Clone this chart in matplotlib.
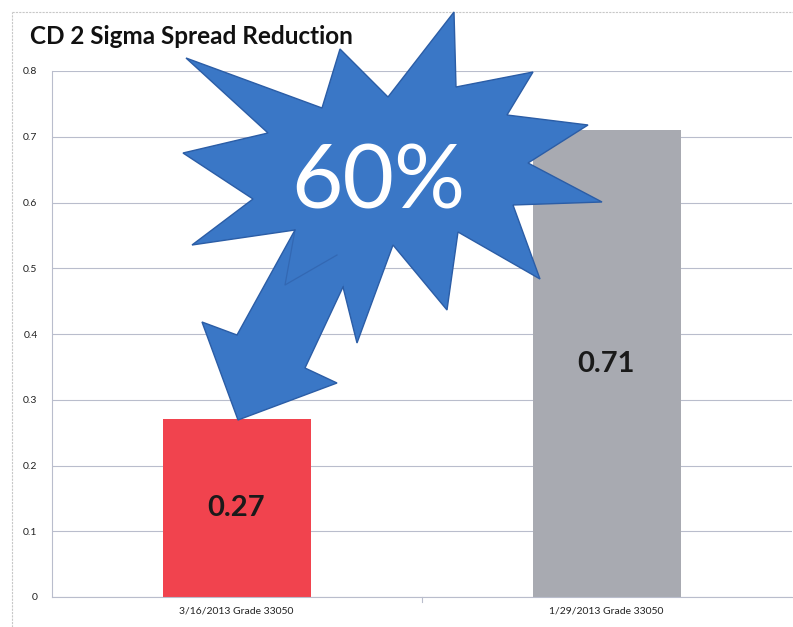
import matplotlib
matplotlib.use("Agg")
import matplotlib.pyplot as plt
from matplotlib.patches import Polygon
from matplotlib.lines import Line2D

plt.rcParams['font.family'] = ['Lato', 'DejaVu Sans']

# Data
categories = ["3/16/2013 Grade 33050", "1/29/2013 Grade 33050"]
values = [0.27, 0.71]
bar_colors = ["#F1434E", "#A8AAB1"]
y_ticks = [0, 0.1, 0.2, 0.3, 0.4, 0.5, 0.6, 0.7, 0.8]
y_tick_labels = ["0", "0.1", "0.2", "0.3", "0.4", "0.5", "0.6", "0.7", "0.8"]
title = "CD 2 Sigma Spread Reduction"
callout_text = "60%"

W, H = 793, 627
fig = plt.figure(figsize=(W / 100, H / 100), dpi=100)
fig.patch.set_facecolor("white")

ax = fig.add_axes([51.5 / W, 1 - 597 / H, 740 / W, 526 / H])
x = list(range(len(categories)))
bars = ax.bar(x, values, width=0.4, color=bar_colors, zorder=2)
ax.set_xlim(-0.5, len(categories) - 0.5)
ax.set_ylim(0, 0.8)
ax.set_yticks(y_ticks)
ax.set_yticklabels(y_tick_labels)
ax.set_xticks(x)
ax.set_xticklabels(categories)
ax.tick_params(axis="y", length=0, pad=10, labelsize=7.5, colors="#222222")
ax.tick_params(axis="x", length=0, pad=7, labelsize=7.5, colors="#222222")
ax.set_axisbelow(True)
ax.grid(axis="y", color="#B9BDCC", linewidth=0.8)
for side in ("top", "right"):
    ax.spines[side].set_visible(False)
for side in ("left", "bottom"):
    ax.spines[side].set_color("#B9BDCC")
    ax.spines[side].set_linewidth(0.8)
# small divider tick between categories
ax.plot([0.5, 0.5], [0, -0.008], color="#B9BDCC", lw=0.8, clip_on=False)

# value labels inside the bars
for rect, v in zip(bars, values):
    ax.text(rect.get_x() + rect.get_width() / 2, v / 2, f"{v:.2f}",
            ha="center", va="center", fontsize=21, fontweight="bold",
            color="#1a1a1a", zorder=3)

# outer frame
fig.add_artist(Line2D([12 / W, 1], [1 - 12 / H, 1 - 12 / H],
                      color="#C8C8C8", lw=0.8, linestyle=(0, (2, 1))))
fig.add_artist(Line2D([12 / W, 12 / W], [0, 1 - 12 / H],
                      color="#C8C8C8", lw=0.8, linestyle=(0, (2, 1))))

fig.text(30 / W, 1 - 36 / H, title, fontsize=17.5, fontweight="bold",
         ha="left", va="center", color="#111111")

# starburst callout (pixel outline, top-left origin)
star_px = [(186, 58), (322, 108), (340, 49), (388, 97), (454, 12), (456, 87),
           (533, 72), (507, 115), (588, 125), (528, 163), (602, 202),
           (513, 205), (540, 279), (458, 232), (447, 310), (393, 245),
           (357, 343), (343, 287), (337, 255), (285, 285), (295, 230),
           (192, 245), (253, 199), (183, 153), (268, 133)]
# arrow body; its top end lies inside the burst
arrow_fill_px = [(310, 200), (295, 230), (237, 335), (202, 322), (238, 420),
                 (337, 383), (305, 368), (343, 287), (360, 230)]
# visible outer edge of the arrow
arrow_edge_px = [(295, 230), (237, 335), (202, 322), (238, 420), (337, 383),
                 (305, 368), (343, 287)]
# faint trace of the burst spike hidden under the arrow
spike_px = [(295, 230), (285, 285), (337, 255)]


def to_fig(pts):
    return [(px / W, 1 - py / H) for px, py in pts]


blue = "#3A77C6"
edge = "#2B5DA6"
fig.add_artist(Polygon(to_fig(star_px), closed=True, facecolor=blue,
                       edgecolor=edge, linewidth=1.0,
                       transform=fig.transFigure, zorder=5))
fig.add_artist(Polygon(to_fig(arrow_fill_px), closed=True, facecolor=blue,
                       edgecolor="none", transform=fig.transFigure, zorder=6))
ex, ey = zip(*to_fig(arrow_edge_px))
fig.add_artist(Line2D(ex, ey, color=edge, lw=1.0, zorder=6.2,
                      solid_joinstyle="miter"))
sx, sy = zip(*to_fig(spike_px))
fig.add_artist(Line2D(sx, sy, color="#3368B3", lw=0.9, zorder=6.1))

fig.text(378 / W, 1 - 183 / H, callout_text, fontsize=64, color="white",
         ha="center", va="center", zorder=7)

fig.savefig("out.png", dpi=100, facecolor="white")
